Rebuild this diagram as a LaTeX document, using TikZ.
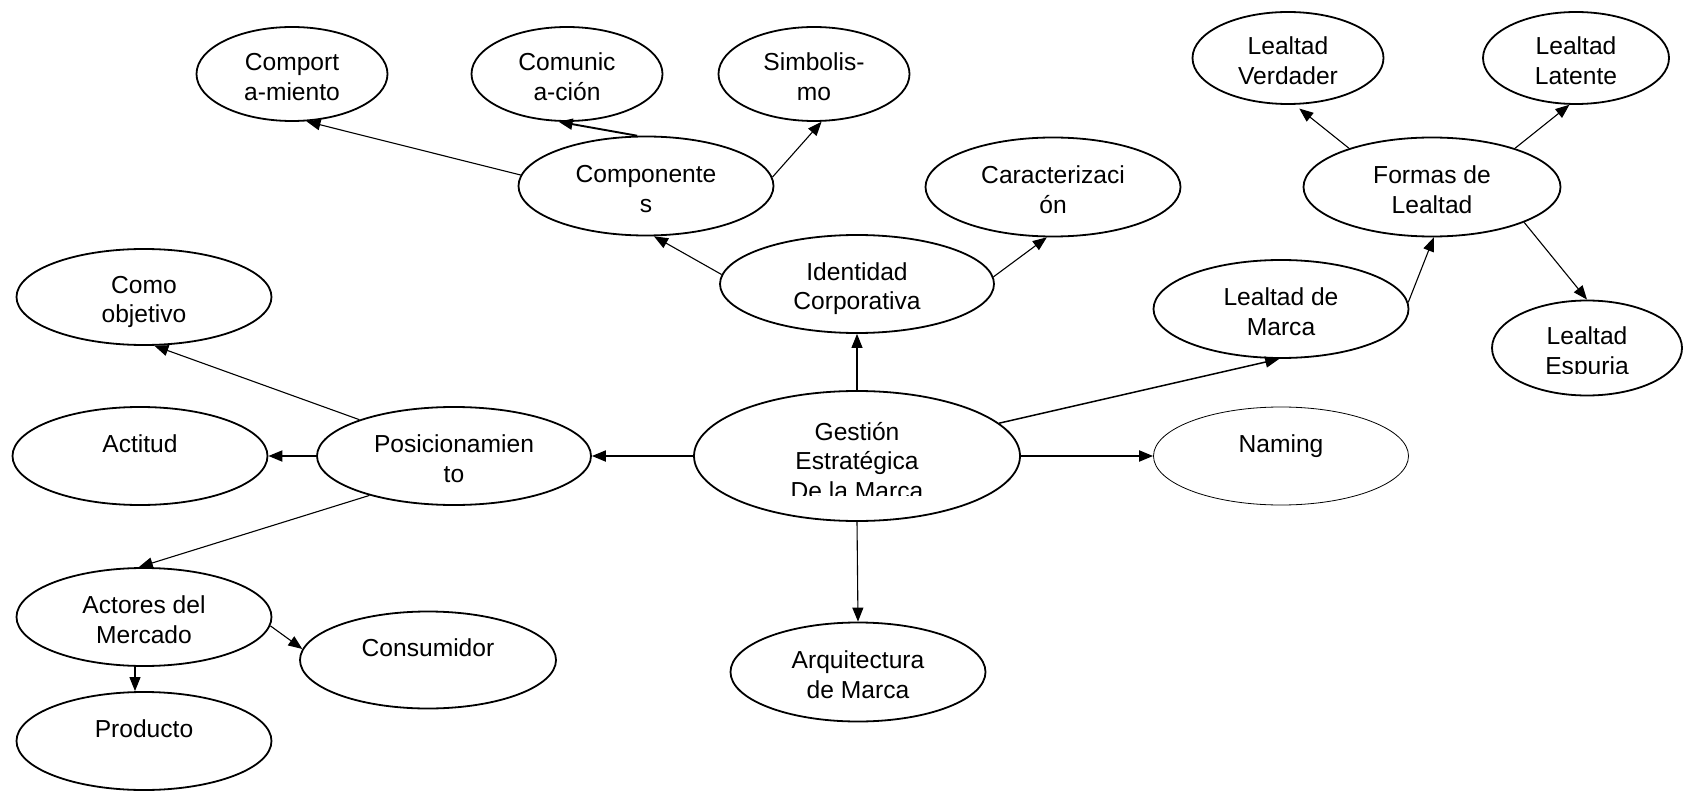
\documentclass[tikz,border=0pt]{standalone}
\usepackage{fontspec}
\setmainfont{Liberation Sans}
\usetikzlibrary{shapes.geometric,arrows.meta,calc}
\newcommand{\mapfont}{\fontsize{24.6}{29.5}\selectfont}
% fixed first-line height and last-line depth, so every label sits alike
\newcommand{\ovtop}{\rule{0pt}{27pt}}
\newcommand{\ovbot}{\rule[-4pt]{0pt}{4pt}}

\begin{document}
\begin{tikzpicture}[x=1pt,y=-1pt,
  oval/.style={ellipse,draw,line width=1.8pt,inner sep=0pt,align=center,font=\mapfont},
  small/.style={oval,minimum width=191pt,minimum height=94pt},
  big/.style={oval,minimum width=255pt,minimum height=98pt},
  label text/.style={font=\mapfont,align=center,inner sep=0pt},
  link/.style={line width=1.1pt,-{Triangle[length=14pt,width=11pt]}},
  heavy link/.style={link,line width=1.9pt},
]
\useasboundingbox (0,0) rectangle (1685,791);

% identity branch
\node[small] (comport) at (292,74) {\ovtop Comport\\a-miento\ovbot};
\node[small] (comunic) at (567,74) {\ovtop Comunic\\a-ción\ovbot};
\node[small] (simbol) at (814,74) {\ovtop Simbolis-\\mo\ovbot};
\node[big,minimum height=99pt] (compon) at (646,186) {\ovtop Componente\\s\ovbot};
\node[big,minimum height=99pt] (caract) at (1053,187) {\ovtop Caracterizaci\\ón\ovbot};
\node[big,minimum width=274pt] (ident) at (857,284) {\ovtop Identidad\\Corporativa\ovbot};

% loyalty branch
\node[small,minimum height=92pt] (verdad) at (1288,58) {\ovtop Lealtad\\Verdader\ovbot};
\node[small,minimum width=186pt,minimum height=92pt] (latente) at (1576,58) {\ovtop Lealtad\\Latente\ovbot};
\node[big,minimum width=257pt,minimum height=99pt] (formas) at (1432,187) {\ovtop Formas de\\Lealtad\ovbot};
\node[big] (lmarca) at (1281,309) {\ovtop Lealtad de\\Marca\ovbot};
\node[small,minimum width=190pt,minimum height=95pt] (espuria) at (1587,348) {};

% positioning branch
\node[big,minimum height=96pt] (objetivo) at (144,297) {\ovtop Como\\objetivo\ovbot};
\node[big] (actitud) at (140,456) {\ovtop Actitud\\\ovbot};
\node[big,minimum width=274pt] (posic) at (454,456) {\ovtop Posicionamien\\to\ovbot};
\node[big] (actores) at (144,617) {\ovtop Actores del\\Mercado\ovbot};
\node[big,minimum height=97pt,minimum width=256pt] (consum) at (428,660) {\ovtop Consumidor\\\ovbot};
\node[big] (producto) at (144,741) {\ovtop Producto\\\ovbot};

% centre and remaining branches
\node[oval,minimum width=326pt,minimum height=130pt] (gestion) at (857,456) {};
\node[big,line width=0.8pt] (naming) at (1281,456) {\ovtop Naming\\\ovbot};
\node[big,minimum height=99pt] (arquit) at (858,672) {\ovtop Arquitectura\\de Marca\ovbot};

% labels that overflow their boxes and are cut at the bottom
\begin{scope}
  \clip ($(gestion.center)+(-160,-60)$) rectangle ($(gestion.center)+(160,39)$);
  \node[label text] (gestiontext) at ($(gestion.center)+(0,2)$)
    {\ovtop Gestión\\Estratégica\\De la Marca\ovbot};
\end{scope}
\begin{scope}
  \clip ($(espuria.center)+(-90,-45)$) rectangle ($(espuria.center)+(90,25.5)$);
  \node[label text] (espuriatext) at ($(espuria.center)+(0,0.75)$)
    {\ovtop Lealtad\\Espuria\ovbot};
\end{scope}

% connectors
\draw[link] (compon.175.5) -- (comport.-73.7);
\draw[heavy link] (compon.100.4) -- (comunic.-100.6);
\draw[link] (compon.4) -- (simbol.-81.7);
\draw[link] (ident.176.2) -- (compon.-81.9);
\draw[link] (ident.3.8) -- (caract.-97);
\draw[link] (gestion.north) -- (ident.south);
\draw[heavy link] (gestion.west) -- (posic.east);
\draw[heavy link] (gestion.east) -- (naming.west);
\draw[link] (gestion.south) -- (arquit.north);
\draw[link,line width=1.5pt] (gestion.13.7) -- (lmarca.-92.4);
\draw[link] (lmarca.3.1) -- (formas.-88.8);
\draw[link,shorten >=6pt] (formas.155.5) -- (verdad.-82);
\draw[link] (formas.25.5) -- (latente.-98.7);
\draw[link] (formas.-21.8) -- (espuria.north);
\draw[link] (posic.159.1) -- (objetivo.-78.5);
\draw[heavy link] (posic.west) -- (actitud.east);
\draw[link] (posic.205.1) -- (actores.96.8);
\draw[link] (actores.-4.6) -- (consum.175);
\draw[link] ([xshift=-9pt]actores.south) -- ([xshift=-9pt]producto.north);
\end{tikzpicture}
\end{document}
